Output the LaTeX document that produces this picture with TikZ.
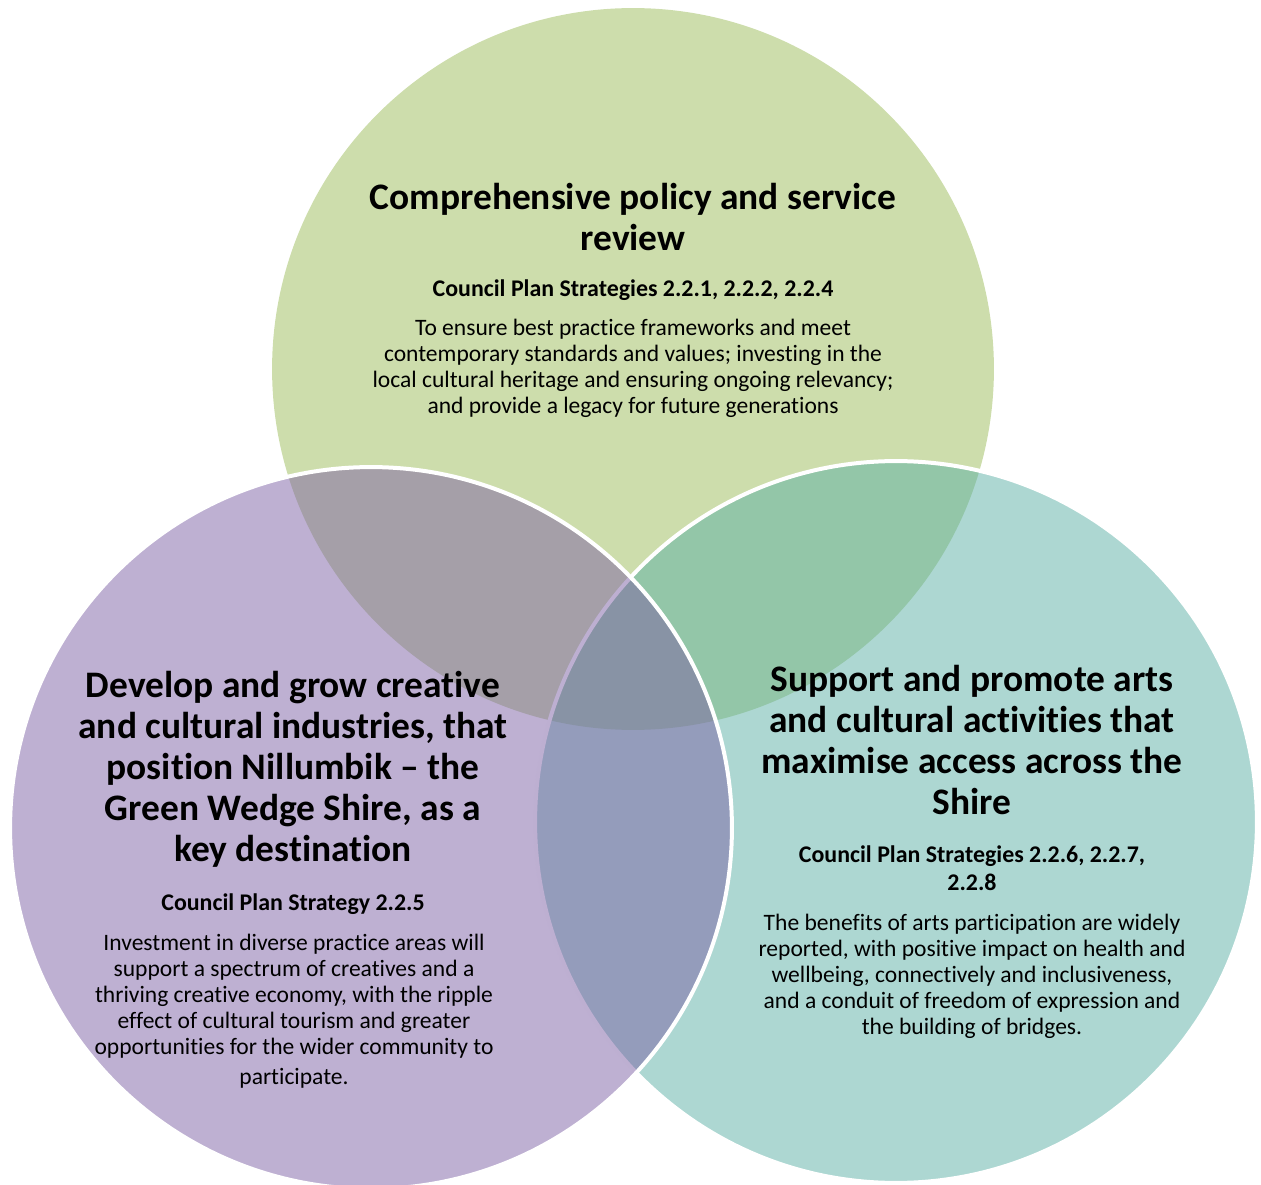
\documentclass[tikz,border=0pt]{standalone}
\usepackage{fontspec}
\setmainfont{Carlito}[Ligatures={TeX,NoCommon}]
\definecolor{policygreen}{RGB}{155,187,89}
\definecolor{artsteal}{RGB}{91,175,165}
\definecolor{creativepurple}{RGB}{125,97,165}

\begin{document}
\begin{tikzpicture}[
  x=0.02cm, y=-0.02cm,
  venn/.style={circle, minimum size=14.44cm, inner sep=0pt, fill opacity=0.5},
  rim/.style={draw=white, line width=0.08cm},
  head/.style={align=center, inner sep=0pt, font=\fontsize{21.3}{23.3}\selectfont\bfseries},
  strat/.style={align=center, inner sep=0pt, font=\fontsize{13.6}{15.9}\selectfont\bfseries},
  blurb/.style={align=center, inner sep=0pt, font=\fontsize{13.4}{14.8}\selectfont}
]
\useasboundingbox (0,0) rectangle (1261,1185);
\clip (0,0) rectangle (1261,1185);
% the three circles
\node[venn, fill=policygreen] (policy) at (633,369) {};
\node[venn, rim, fill=artsteal] (arts) at (896,822) {};
\node[venn, rim, fill=creativepurple] (creative) at (371,828) {};
% top
\node[head] (policytitle) at (633,217) {Comprehensive policy and service\\review};
\node[strat] (policyref) at (633,290) {Council Plan Strategies 2.2.1, 2.2.2, 2.2.4};
\node[blurb] (policytext) at (633,368) {To ensure best practice frameworks and meet\\contemporary standards and values; investing in the\\local cultural heritage and ensuring ongoing relevancy;\\and provide a legacy for future generations};
% left
\node[head] (creativetitle) at (293,769) {Develop and grow creative\\and cultural industries, that\\position Nillumbik -- the\\Green Wedge Shire, as a\\key destination};
\node[strat] (creativeref) at (293,904) {Council Plan Strategy 2.2.5};
\node[blurb] (creativetext) at (294,1011) {Investment in diverse practice areas will\\support a spectrum of creatives and a\\thriving creative economy, with the ripple\\effect of cultural tourism and greater\\opportunities for the wider community to\\[2pt]participate.};
% right
\node[head] (artstitle) at (972,740) {Support and promote arts\\and cultural activities that\\maximise access across the\\Shire};
\node[strat] (artsref) at (972,868) {Council Plan Strategies 2.2.6, 2.2.7,\\2.2.8};
\node[blurb] (artstext) at (972,976) {The benefits of arts participation are widely\\reported, with positive impact on health and\\wellbeing, connectively and inclusiveness,\\and a conduit of freedom of expression and\\the building of bridges.};
\end{tikzpicture}
\end{document}
